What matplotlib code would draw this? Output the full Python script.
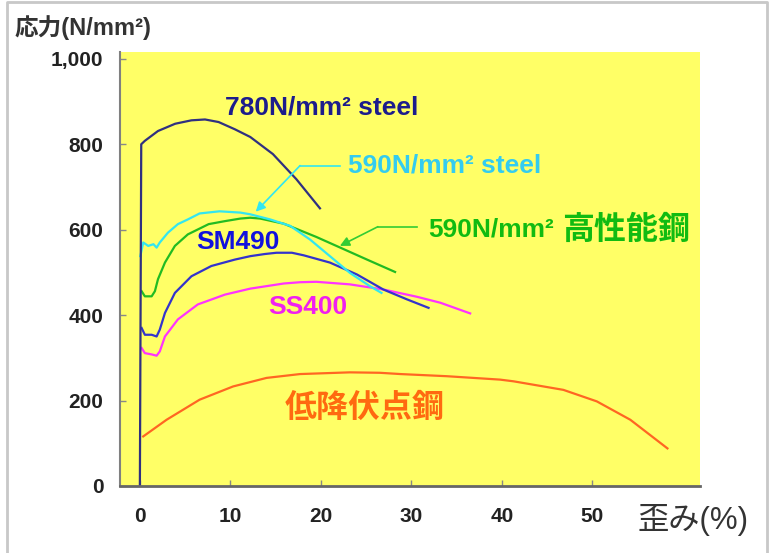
import matplotlib
matplotlib.use("Agg")
import matplotlib.pyplot as plt
from matplotlib.lines import Line2D
from matplotlib.ticker import FuncFormatter

LATIN = "Liberation Sans"
CJK = "Noto Sans CJK JP"
FAMILY = [LATIN, CJK, "DejaVu Sans"]
plt.rcParams["font.family"] = FAMILY

# strain (%) / stress (N/mm2)
s780_x = [0.0, 0.15, 0.55, 2.0, 3.9, 5.7, 7.2, 8.7, 10.5, 12.2, 14.7, 17.3, 19.9]
s780_y = [0, 800, 808, 831, 848, 856, 858, 852, 835, 817, 777, 718, 650]

s590_x = [0.05, 0.37, 0.92, 1.5, 1.85, 2.2, 3.1, 4.2, 5.3, 6.6, 8.8, 11.1, 12.2,
          14.4, 16.6, 18.8, 21.0, 23.2, 25.4, 26.7]
s590_y = [538, 570, 562, 566, 558, 570, 593, 613, 624, 638, 643, 640, 636,
          624, 609, 577, 538, 499, 468, 452]

hp590_x = [0.19, 0.55, 1.3, 1.66, 2.0, 2.77, 3.87, 5.3, 7.6, 9.4, 11.1, 12.2,
           13.3, 15.9, 19.5, 23.2, 25.1, 28.2]
hp590_y = [456, 444, 444, 456, 484, 523, 562, 589, 613, 620, 626, 628,
           626, 614, 583, 548, 530, 501]

sm490_x = [0.19, 0.55, 1.3, 1.85, 2.2, 2.77, 3.87, 5.7, 7.9, 10.5, 12.2, 13.8,
           15.1, 16.8, 18.1, 21.0, 24.0, 26.9, 29.5, 31.9]
sm490_y = [370, 354, 354, 350, 366, 405, 452, 491, 515, 530, 538, 543,
           546, 546, 540, 523, 495, 460, 437, 417]

ss400_x = [0.19, 0.55, 1.3, 1.85, 2.2, 2.77, 4.2, 6.4, 9.4, 12.2, 15.9, 17.7,
           19.5, 23.2, 26.9, 30.6, 33.2, 36.5]
ss400_y = [323, 311, 308, 305, 315, 350, 390, 425, 448, 462, 474, 477,
           478, 472, 460, 443, 429, 404]

lyp_x = [0.37, 2.95, 6.6, 10.3, 14.0, 17.7, 23.2, 26.5, 28.8, 33.9, 39.8,
         41.3, 46.8, 50.5, 54.2, 58.3]
lyp_y = [116, 155, 202, 233, 253, 262, 266, 265, 262, 257, 249,
         245, 225, 198, 155, 88]

x_ticks = [0, 10, 20, 30, 40, 50]
y_ticks = [0, 200, 400, 600, 800, 1000]

fig = plt.figure(figsize=(7.74, 5.53), dpi=100)
ax = fig.add_axes([0.155, 0.1212, 0.7494, 0.7848])
ax.set_facecolor("#ffff66")

ax.plot(lyp_x, lyp_y, color="#ff6622", lw=1.6)
ax.plot(ss400_x, ss400_y, color="#ff33ff", lw=1.6)
ax.plot(sm490_x, sm490_y, color="#3333cc", lw=1.6)
ax.plot(hp590_x, hp590_y, color="#22bb22", lw=1.6)
ax.plot(s590_x, s590_y, color="#33e6f0", lw=1.6)
ax.plot(s780_x, s780_y, color="#303080", lw=1.6)

ax.set_xlim(-2.2, 61.9)
ax.set_ylim(0, 1016)
ax.set_xticks(x_ticks)
ax.set_yticks(y_ticks)
ax.yaxis.set_major_formatter(FuncFormatter(lambda v, p: f"{int(v):,}"))

for side in ("top", "right"):
    ax.spines[side].set_visible(False)
ax.spines["left"].set_color("#808080")
ax.spines["left"].set_linewidth(1.5)
ax.spines["bottom"].set_color("#666666")
ax.spines["bottom"].set_linewidth(2)
ax.tick_params(direction="in", length=4, width=1, color="#888888",
               labelcolor="#222222", labelsize=15)
ax.tick_params(axis="x", pad=15)
ax.tick_params(axis="y", pad=12)
for lab in ax.get_xticklabels() + ax.get_yticklabels():
    lab.set_fontweight("bold")

lab_kw = dict(fontsize=19, fontweight="bold", va="center", ha="left")
ax.text(9.4, 885, "780N/mm² steel", color="#1c1c8c", **lab_kw)
ax.text(23.0, 750, "590N/mm² steel", color="#33ccf0", **lab_kw)
ax.text(31.9, 600, "590N/mm²", color="#11bb11", **lab_kw)
ax.text(46.6, 600, "高性能鋼", color="#11bb11", fontsize=23, fontweight="bold",
        va="center", ha="left", family=[CJK])
ax.text(6.2, 571, "SM490", color="#1111dd", **lab_kw)
ax.text(14.2, 419, "SS400", color="#f020f0", **lab_kw)
ax.text(16.0, 183, "低降伏点鋼", color="#ff6a10", fontsize=23, fontweight="bold",
        va="center", ha="left", family=[CJK])

# leader arrows
ax.plot([22.1, 17.7], [750, 750], color="#33e6f0", lw=1.2)
ax.annotate("", xy=(12.8, 642), xytext=(17.7, 750),
            arrowprops=dict(arrowstyle="-|>", color="#33e6f0", lw=1.2,
                            mutation_scale=14, shrinkA=0, shrinkB=0))
ax.plot([30.6, 26.3], [607, 607], color="#33cc33", lw=1.2)
ax.annotate("", xy=(22.1, 562), xytext=(26.3, 607),
            arrowprops=dict(arrowstyle="-|>", color="#33cc33", lw=1.2,
                            mutation_scale=14, shrinkA=0, shrinkB=0))

fig.text(15 / 774, 1 - 28 / 553, "応力(N/mm²)", fontsize=17, fontweight="bold",
         color="#333333", ha="left", va="center")
fig.text(638 / 774, 1 - 520 / 553, "歪み(%)", fontsize=22.5, color="#333333",
         ha="left", va="center")

fig.add_artist(Line2D([7 / 774, 7 / 774, 767 / 774, 767 / 774],
                      [0, 1 - 2 / 553, 1 - 2 / 553, 0],
                      transform=fig.transFigure, color="#c8c8c8", lw=2))

fig.savefig("out.png", dpi=100)
